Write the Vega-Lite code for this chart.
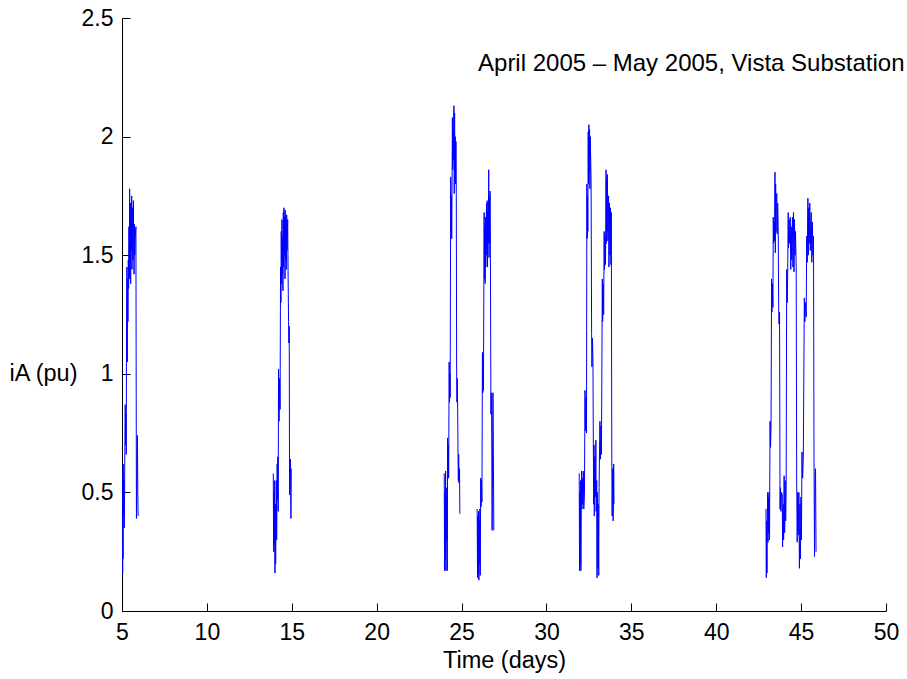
{
  "$schema": "https://vega.github.io/schema/vega-lite/v6.json",
  "width": 764,
  "height": 593,
  "autosize": "none",
  "padding": {"left": 122, "top": 18, "right": 21, "bottom": 68},
  "background": "white",
  "config": {
    "view": {"stroke": null},
    "font": "Liberation Sans",
    "axis": {
      "grid": false,
      "domainColor": "black",
      "domainWidth": 1,
      "tickColor": "black",
      "tickWidth": 1,
      "tickSize": -8,
      "labelFont": "Liberation Sans",
      "labelFontSize": 23,
      "labelColor": "black",
      "titleFont": "Liberation Sans",
      "titleFontSize": 23.5,
      "titleFontWeight": "normal",
      "titleColor": "black"
    }
  },
  "datasets": {
    "current": [
      {"seg": 1, "day": 5.03, "ia": 0.30}, {"seg": 1, "day": 5.04, "ia": 0.16}, {"seg": 1, "day": 5.05, "ia": 0.58}, {"seg": 1, "day": 5.06, "ia": 0.22}, {"seg": 1, "day": 5.07, "ia": 0.62}, {"seg": 1, "day": 5.09, "ia": 0.40}, {"seg": 1, "day": 5.11, "ia": 0.55}, {"seg": 1, "day": 5.13, "ia": 0.35}, {"seg": 1, "day": 5.15, "ia": 0.47}, {"seg": 1, "day": 5.17, "ia": 0.72}, {"seg": 1, "day": 5.19, "ia": 0.87}, {"seg": 1, "day": 5.21, "ia": 0.70}, {"seg": 1, "day": 5.23, "ia": 0.83}, {"seg": 1, "day": 5.25, "ia": 0.66}, {"seg": 1, "day": 5.27, "ia": 1.25}, {"seg": 1, "day": 5.29, "ia": 1.45}, {"seg": 1, "day": 5.31, "ia": 1.05}, {"seg": 1, "day": 5.33, "ia": 1.40}, {"seg": 1, "day": 5.35, "ia": 1.22}, {"seg": 1, "day": 5.37, "ia": 1.48}, {"seg": 1, "day": 5.39, "ia": 1.36}, {"seg": 1, "day": 5.41, "ia": 1.62}, {"seg": 1, "day": 5.43, "ia": 1.40}, {"seg": 1, "day": 5.45, "ia": 1.78}, {"seg": 1, "day": 5.47, "ia": 1.45}, {"seg": 1, "day": 5.49, "ia": 1.72}, {"seg": 1, "day": 5.51, "ia": 1.38}, {"seg": 1, "day": 5.53, "ia": 1.66}, {"seg": 1, "day": 5.55, "ia": 1.52}, {"seg": 1, "day": 5.57, "ia": 1.75}, {"seg": 1, "day": 5.59, "ia": 1.44}, {"seg": 1, "day": 5.61, "ia": 1.62}, {"seg": 1, "day": 5.63, "ia": 1.70}, {"seg": 1, "day": 5.65, "ia": 1.48}, {"seg": 1, "day": 5.67, "ia": 1.73}, {"seg": 1, "day": 5.69, "ia": 1.55}, {"seg": 1, "day": 5.71, "ia": 1.42}, {"seg": 1, "day": 5.73, "ia": 1.63}, {"seg": 1, "day": 5.75, "ia": 1.50}, {"seg": 1, "day": 5.78, "ia": 1.58}, {"seg": 1, "day": 5.82, "ia": 1.62}, {"seg": 1, "day": 5.85, "ia": 0.39}, {"seg": 1, "day": 5.88, "ia": 0.55}, {"seg": 1, "day": 5.91, "ia": 0.74}, {"seg": 1, "day": 5.93, "ia": 0.50}, {"seg": 1, "day": 5.95, "ia": 0.40},
      {"seg": 2, "day": 13.91, "ia": 0.58}, {"seg": 2, "day": 13.93, "ia": 0.25}, {"seg": 2, "day": 13.95, "ia": 0.50}, {"seg": 2, "day": 13.97, "ia": 0.28}, {"seg": 2, "day": 13.99, "ia": 0.55}, {"seg": 2, "day": 14.01, "ia": 0.16}, {"seg": 2, "day": 14.03, "ia": 0.45}, {"seg": 2, "day": 14.05, "ia": 0.20}, {"seg": 2, "day": 14.07, "ia": 0.38}, {"seg": 2, "day": 14.09, "ia": 0.55}, {"seg": 2, "day": 14.11, "ia": 0.30}, {"seg": 2, "day": 14.14, "ia": 0.62}, {"seg": 2, "day": 14.16, "ia": 0.47}, {"seg": 2, "day": 14.18, "ia": 0.65}, {"seg": 2, "day": 14.20, "ia": 0.42}, {"seg": 2, "day": 14.22, "ia": 1.02}, {"seg": 2, "day": 14.25, "ia": 0.80}, {"seg": 2, "day": 14.28, "ia": 0.98}, {"seg": 2, "day": 14.31, "ia": 0.85}, {"seg": 2, "day": 14.34, "ia": 1.45}, {"seg": 2, "day": 14.36, "ia": 1.30}, {"seg": 2, "day": 14.38, "ia": 1.60}, {"seg": 2, "day": 14.40, "ia": 1.38}, {"seg": 2, "day": 14.42, "ia": 1.65}, {"seg": 2, "day": 14.44, "ia": 1.42}, {"seg": 2, "day": 14.46, "ia": 1.58}, {"seg": 2, "day": 14.48, "ia": 1.35}, {"seg": 2, "day": 14.50, "ia": 1.68}, {"seg": 2, "day": 14.52, "ia": 1.45}, {"seg": 2, "day": 14.54, "ia": 1.70}, {"seg": 2, "day": 14.56, "ia": 1.50}, {"seg": 2, "day": 14.58, "ia": 1.66}, {"seg": 2, "day": 14.60, "ia": 1.40}, {"seg": 2, "day": 14.62, "ia": 1.69}, {"seg": 2, "day": 14.64, "ia": 1.48}, {"seg": 2, "day": 14.66, "ia": 1.62}, {"seg": 2, "day": 14.68, "ia": 1.44}, {"seg": 2, "day": 14.70, "ia": 1.67}, {"seg": 2, "day": 14.72, "ia": 1.52}, {"seg": 2, "day": 14.76, "ia": 1.65}, {"seg": 2, "day": 14.78, "ia": 1.45}, {"seg": 2, "day": 14.81, "ia": 1.22}, {"seg": 2, "day": 14.83, "ia": 1.13}, {"seg": 2, "day": 14.85, "ia": 1.20}, {"seg": 2, "day": 14.87, "ia": 0.49}, {"seg": 2, "day": 14.89, "ia": 0.58}, {"seg": 2, "day": 14.92, "ia": 0.64}, {"seg": 2, "day": 14.95, "ia": 0.39}, {"seg": 2, "day": 14.97, "ia": 0.60},
      {"seg": 3, "day": 23.98, "ia": 0.58}, {"seg": 3, "day": 24.00, "ia": 0.17}, {"seg": 3, "day": 24.02, "ia": 0.50}, {"seg": 3, "day": 24.04, "ia": 0.22}, {"seg": 3, "day": 24.06, "ia": 0.59}, {"seg": 3, "day": 24.08, "ia": 0.17}, {"seg": 3, "day": 24.10, "ia": 0.52}, {"seg": 3, "day": 24.12, "ia": 0.30}, {"seg": 3, "day": 24.14, "ia": 0.48}, {"seg": 3, "day": 24.16, "ia": 0.17}, {"seg": 3, "day": 24.18, "ia": 0.73}, {"seg": 3, "day": 24.20, "ia": 0.58}, {"seg": 3, "day": 24.22, "ia": 0.70}, {"seg": 3, "day": 24.24, "ia": 0.56}, {"seg": 3, "day": 24.27, "ia": 1.05}, {"seg": 3, "day": 24.29, "ia": 0.88}, {"seg": 3, "day": 24.31, "ia": 1.00}, {"seg": 3, "day": 24.33, "ia": 0.90}, {"seg": 3, "day": 24.36, "ia": 1.83}, {"seg": 3, "day": 24.38, "ia": 1.60}, {"seg": 3, "day": 24.40, "ia": 1.75}, {"seg": 3, "day": 24.42, "ia": 1.57}, {"seg": 3, "day": 24.44, "ia": 1.80}, {"seg": 3, "day": 24.46, "ia": 2.08}, {"seg": 3, "day": 24.48, "ia": 1.86}, {"seg": 3, "day": 24.50, "ia": 2.02}, {"seg": 3, "day": 24.52, "ia": 1.90}, {"seg": 3, "day": 24.55, "ia": 2.13}, {"seg": 3, "day": 24.57, "ia": 1.76}, {"seg": 3, "day": 24.59, "ia": 2.10}, {"seg": 3, "day": 24.61, "ia": 1.85}, {"seg": 3, "day": 24.63, "ia": 2.00}, {"seg": 3, "day": 24.65, "ia": 1.80}, {"seg": 3, "day": 24.67, "ia": 1.98}, {"seg": 3, "day": 24.69, "ia": 1.76}, {"seg": 3, "day": 24.71, "ia": 1.02}, {"seg": 3, "day": 24.73, "ia": 0.88}, {"seg": 3, "day": 24.75, "ia": 0.98}, {"seg": 3, "day": 24.77, "ia": 0.86}, {"seg": 3, "day": 24.79, "ia": 0.68}, {"seg": 3, "day": 24.81, "ia": 0.55}, {"seg": 3, "day": 24.83, "ia": 0.66}, {"seg": 3, "day": 24.85, "ia": 0.54}, {"seg": 3, "day": 24.88, "ia": 0.60}, {"seg": 3, "day": 24.90, "ia": 0.41},
      {"seg": 4, "day": 25.92, "ia": 0.43}, {"seg": 4, "day": 25.94, "ia": 0.14}, {"seg": 4, "day": 25.96, "ia": 0.40}, {"seg": 4, "day": 25.98, "ia": 0.16}, {"seg": 4, "day": 26.00, "ia": 0.42}, {"seg": 4, "day": 26.02, "ia": 0.13}, {"seg": 4, "day": 26.04, "ia": 0.38}, {"seg": 4, "day": 26.06, "ia": 0.20}, {"seg": 4, "day": 26.08, "ia": 0.43}, {"seg": 4, "day": 26.10, "ia": 0.15}, {"seg": 4, "day": 26.13, "ia": 0.56}, {"seg": 4, "day": 26.15, "ia": 0.44}, {"seg": 4, "day": 26.17, "ia": 0.55}, {"seg": 4, "day": 26.20, "ia": 0.46}, {"seg": 4, "day": 26.23, "ia": 1.09}, {"seg": 4, "day": 26.25, "ia": 0.92}, {"seg": 4, "day": 26.27, "ia": 1.05}, {"seg": 4, "day": 26.29, "ia": 0.93}, {"seg": 4, "day": 26.33, "ia": 1.68}, {"seg": 4, "day": 26.35, "ia": 1.40}, {"seg": 4, "day": 26.37, "ia": 1.62}, {"seg": 4, "day": 26.39, "ia": 1.38}, {"seg": 4, "day": 26.41, "ia": 1.66}, {"seg": 4, "day": 26.43, "ia": 1.45}, {"seg": 4, "day": 26.45, "ia": 1.60}, {"seg": 4, "day": 26.47, "ia": 1.72}, {"seg": 4, "day": 26.49, "ia": 1.50}, {"seg": 4, "day": 26.51, "ia": 1.73}, {"seg": 4, "day": 26.53, "ia": 1.45}, {"seg": 4, "day": 26.55, "ia": 1.68}, {"seg": 4, "day": 26.57, "ia": 1.55}, {"seg": 4, "day": 26.60, "ia": 1.86}, {"seg": 4, "day": 26.62, "ia": 1.49}, {"seg": 4, "day": 26.64, "ia": 1.75}, {"seg": 4, "day": 26.66, "ia": 1.55}, {"seg": 4, "day": 26.68, "ia": 1.77}, {"seg": 4, "day": 26.70, "ia": 1.50}, {"seg": 4, "day": 26.73, "ia": 0.83}, {"seg": 4, "day": 26.75, "ia": 0.92}, {"seg": 4, "day": 26.77, "ia": 0.87}, {"seg": 4, "day": 26.80, "ia": 0.34}, {"seg": 4, "day": 26.82, "ia": 0.55}, {"seg": 4, "day": 26.85, "ia": 0.92}, {"seg": 4, "day": 26.88, "ia": 0.60}, {"seg": 4, "day": 26.90, "ia": 0.34},
      {"seg": 5, "day": 31.93, "ia": 0.58}, {"seg": 5, "day": 31.95, "ia": 0.17}, {"seg": 5, "day": 31.97, "ia": 0.50}, {"seg": 5, "day": 31.99, "ia": 0.20}, {"seg": 5, "day": 32.01, "ia": 0.55}, {"seg": 5, "day": 32.03, "ia": 0.17}, {"seg": 5, "day": 32.05, "ia": 0.45}, {"seg": 5, "day": 32.07, "ia": 0.59}, {"seg": 5, "day": 32.09, "ia": 0.43}, {"seg": 5, "day": 32.11, "ia": 0.56}, {"seg": 5, "day": 32.14, "ia": 0.45}, {"seg": 5, "day": 32.17, "ia": 0.59}, {"seg": 5, "day": 32.20, "ia": 0.43}, {"seg": 5, "day": 32.24, "ia": 0.50}, {"seg": 5, "day": 32.27, "ia": 0.93}, {"seg": 5, "day": 32.30, "ia": 0.76}, {"seg": 5, "day": 32.33, "ia": 0.90}, {"seg": 5, "day": 32.36, "ia": 0.75}, {"seg": 5, "day": 32.38, "ia": 1.80}, {"seg": 5, "day": 32.40, "ia": 1.57}, {"seg": 5, "day": 32.42, "ia": 1.75}, {"seg": 5, "day": 32.44, "ia": 1.60}, {"seg": 5, "day": 32.46, "ia": 2.02}, {"seg": 5, "day": 32.48, "ia": 1.80}, {"seg": 5, "day": 32.50, "ia": 2.05}, {"seg": 5, "day": 32.52, "ia": 1.85}, {"seg": 5, "day": 32.54, "ia": 2.03}, {"seg": 5, "day": 32.56, "ia": 1.78}, {"seg": 5, "day": 32.58, "ia": 2.00}, {"seg": 5, "day": 32.61, "ia": 1.90}, {"seg": 5, "day": 32.63, "ia": 1.80}, {"seg": 5, "day": 32.66, "ia": 1.17}, {"seg": 5, "day": 32.68, "ia": 1.03}, {"seg": 5, "day": 32.71, "ia": 1.15}, {"seg": 5, "day": 32.74, "ia": 1.05}, {"seg": 5, "day": 32.76, "ia": 0.73}, {"seg": 5, "day": 32.78, "ia": 0.45}, {"seg": 5, "day": 32.80, "ia": 0.70}, {"seg": 5, "day": 32.82, "ia": 0.40}, {"seg": 5, "day": 32.85, "ia": 0.65}, {"seg": 5, "day": 32.88, "ia": 0.48}, {"seg": 5, "day": 32.91, "ia": 0.72}, {"seg": 5, "day": 32.93, "ia": 0.42}, {"seg": 5, "day": 32.96, "ia": 0.55}, {"seg": 5, "day": 32.98, "ia": 0.14}, {"seg": 5, "day": 33.00, "ia": 0.50}, {"seg": 5, "day": 33.02, "ia": 0.18}, {"seg": 5, "day": 33.05, "ia": 0.45}, {"seg": 5, "day": 33.08, "ia": 0.15}, {"seg": 5, "day": 33.10, "ia": 0.52}, {"seg": 5, "day": 33.15, "ia": 0.80}, {"seg": 5, "day": 33.18, "ia": 0.64}, {"seg": 5, "day": 33.21, "ia": 0.78}, {"seg": 5, "day": 33.24, "ia": 0.66}, {"seg": 5, "day": 33.29, "ia": 1.40}, {"seg": 5, "day": 33.31, "ia": 1.22}, {"seg": 5, "day": 33.34, "ia": 1.38}, {"seg": 5, "day": 33.37, "ia": 1.25}, {"seg": 5, "day": 33.40, "ia": 1.60}, {"seg": 5, "day": 33.42, "ia": 1.44}, {"seg": 5, "day": 33.45, "ia": 1.58}, {"seg": 5, "day": 33.48, "ia": 1.46}, {"seg": 5, "day": 33.51, "ia": 1.86}, {"seg": 5, "day": 33.53, "ia": 1.55}, {"seg": 5, "day": 33.55, "ia": 1.82}, {"seg": 5, "day": 33.57, "ia": 1.60}, {"seg": 5, "day": 33.59, "ia": 1.84}, {"seg": 5, "day": 33.62, "ia": 1.56}, {"seg": 5, "day": 33.66, "ia": 1.75}, {"seg": 5, "day": 33.68, "ia": 1.45}, {"seg": 5, "day": 33.71, "ia": 1.72}, {"seg": 5, "day": 33.74, "ia": 1.50}, {"seg": 5, "day": 33.77, "ia": 1.70}, {"seg": 5, "day": 33.80, "ia": 1.46}, {"seg": 5, "day": 33.82, "ia": 1.68}, {"seg": 5, "day": 33.85, "ia": 0.64}, {"seg": 5, "day": 33.87, "ia": 0.40}, {"seg": 5, "day": 33.90, "ia": 0.60}, {"seg": 5, "day": 33.93, "ia": 0.38}, {"seg": 5, "day": 33.96, "ia": 0.62}, {"seg": 5, "day": 33.98, "ia": 0.45},
      {"seg": 6, "day": 42.93, "ia": 0.43}, {"seg": 6, "day": 42.95, "ia": 0.14}, {"seg": 6, "day": 42.97, "ia": 0.38}, {"seg": 6, "day": 42.99, "ia": 0.16}, {"seg": 6, "day": 43.01, "ia": 0.40}, {"seg": 6, "day": 43.03, "ia": 0.50}, {"seg": 6, "day": 43.05, "ia": 0.29}, {"seg": 6, "day": 43.07, "ia": 0.48}, {"seg": 6, "day": 43.09, "ia": 0.33}, {"seg": 6, "day": 43.11, "ia": 0.50}, {"seg": 6, "day": 43.14, "ia": 0.30}, {"seg": 6, "day": 43.17, "ia": 0.80}, {"seg": 6, "day": 43.20, "ia": 0.69}, {"seg": 6, "day": 43.23, "ia": 0.78}, {"seg": 6, "day": 43.26, "ia": 1.40}, {"seg": 6, "day": 43.28, "ia": 1.26}, {"seg": 6, "day": 43.31, "ia": 1.38}, {"seg": 6, "day": 43.34, "ia": 1.28}, {"seg": 6, "day": 43.36, "ia": 1.66}, {"seg": 6, "day": 43.38, "ia": 1.55}, {"seg": 6, "day": 43.41, "ia": 1.64}, {"seg": 6, "day": 43.44, "ia": 1.56}, {"seg": 6, "day": 43.46, "ia": 1.85}, {"seg": 6, "day": 43.48, "ia": 1.51}, {"seg": 6, "day": 43.50, "ia": 1.80}, {"seg": 6, "day": 43.52, "ia": 1.60}, {"seg": 6, "day": 43.54, "ia": 1.75}, {"seg": 6, "day": 43.57, "ia": 1.76}, {"seg": 6, "day": 43.59, "ia": 1.59}, {"seg": 6, "day": 43.62, "ia": 1.72}, {"seg": 6, "day": 43.65, "ia": 1.62}, {"seg": 6, "day": 43.68, "ia": 1.27}, {"seg": 6, "day": 43.70, "ia": 1.21}, {"seg": 6, "day": 43.73, "ia": 1.26}, {"seg": 6, "day": 43.76, "ia": 0.43}, {"seg": 6, "day": 43.78, "ia": 0.52}, {"seg": 6, "day": 43.81, "ia": 0.42}, {"seg": 6, "day": 43.85, "ia": 0.50}, {"seg": 6, "day": 43.89, "ia": 0.49}, {"seg": 6, "day": 43.91, "ia": 0.27}, {"seg": 6, "day": 43.94, "ia": 0.45}, {"seg": 6, "day": 43.97, "ia": 0.30}, {"seg": 6, "day": 44.00, "ia": 0.57}, {"seg": 6, "day": 44.03, "ia": 0.33}, {"seg": 6, "day": 44.06, "ia": 0.55}, {"seg": 6, "day": 44.09, "ia": 0.38}, {"seg": 6, "day": 44.12, "ia": 0.50}, {"seg": 6, "day": 44.15, "ia": 1.44}, {"seg": 6, "day": 44.18, "ia": 1.30}, {"seg": 6, "day": 44.21, "ia": 1.42}, {"seg": 6, "day": 44.24, "ia": 1.68}, {"seg": 6, "day": 44.26, "ia": 1.53}, {"seg": 6, "day": 44.29, "ia": 1.65}, {"seg": 6, "day": 44.32, "ia": 1.55}, {"seg": 6, "day": 44.36, "ia": 1.66}, {"seg": 6, "day": 44.39, "ia": 1.44}, {"seg": 6, "day": 44.42, "ia": 1.62}, {"seg": 6, "day": 44.45, "ia": 1.48}, {"seg": 6, "day": 44.49, "ia": 1.66}, {"seg": 6, "day": 44.52, "ia": 1.45}, {"seg": 6, "day": 44.55, "ia": 1.68}, {"seg": 6, "day": 44.58, "ia": 1.43}, {"seg": 6, "day": 44.61, "ia": 1.65}, {"seg": 6, "day": 44.64, "ia": 1.50}, {"seg": 6, "day": 44.67, "ia": 1.60}, {"seg": 6, "day": 44.71, "ia": 1.45}, {"seg": 6, "day": 44.74, "ia": 0.54}, {"seg": 6, "day": 44.77, "ia": 0.29}, {"seg": 6, "day": 44.80, "ia": 0.50}, {"seg": 6, "day": 44.83, "ia": 0.32}, {"seg": 6, "day": 44.87, "ia": 0.50}, {"seg": 6, "day": 44.90, "ia": 0.18}, {"seg": 6, "day": 44.93, "ia": 0.45}, {"seg": 6, "day": 44.96, "ia": 0.22}, {"seg": 6, "day": 44.99, "ia": 0.48}, {"seg": 6, "day": 45.02, "ia": 0.30}, {"seg": 6, "day": 45.05, "ia": 0.67}, {"seg": 6, "day": 45.09, "ia": 0.56}, {"seg": 6, "day": 45.13, "ia": 0.65}, {"seg": 6, "day": 45.19, "ia": 1.32}, {"seg": 6, "day": 45.22, "ia": 1.22}, {"seg": 6, "day": 45.26, "ia": 1.30}, {"seg": 6, "day": 45.30, "ia": 1.24}, {"seg": 6, "day": 45.33, "ia": 1.58}, {"seg": 6, "day": 45.36, "ia": 1.47}, {"seg": 6, "day": 45.40, "ia": 1.74}, {"seg": 6, "day": 45.42, "ia": 1.50}, {"seg": 6, "day": 45.45, "ia": 1.70}, {"seg": 6, "day": 45.48, "ia": 1.55}, {"seg": 6, "day": 45.51, "ia": 1.72}, {"seg": 6, "day": 45.54, "ia": 1.52}, {"seg": 6, "day": 45.57, "ia": 1.65}, {"seg": 6, "day": 45.60, "ia": 1.68}, {"seg": 6, "day": 45.63, "ia": 1.47}, {"seg": 6, "day": 45.66, "ia": 1.64}, {"seg": 6, "day": 45.70, "ia": 1.50}, {"seg": 6, "day": 45.73, "ia": 1.58}, {"seg": 6, "day": 45.76, "ia": 0.65}, {"seg": 6, "day": 45.79, "ia": 0.23}, {"seg": 6, "day": 45.82, "ia": 0.55}, {"seg": 6, "day": 45.85, "ia": 0.60}, {"seg": 6, "day": 45.88, "ia": 0.25}
    ]
  },
  "layer": [
    {
      "data": {"name": "current"},
      "mark": {"type": "line", "color": "#0000ff", "strokeWidth": 1, "clip": true},
      "encoding": {
        "x": {
          "field": "day",
          "type": "quantitative",
          "scale": {"domain": [5, 50], "nice": false, "zero": false},
          "axis": {"title": "Time (days)", "values": [5, 10, 15, 20, 25, 30, 35, 40, 45, 50], "format": "~g", "labelPadding": 18, "titlePadding": 4, "labelFlush": false}
        },
        "y": {
          "field": "ia",
          "type": "quantitative",
          "scale": {"domain": [0, 2.5], "nice": false},
          "axis": {"title": "iA (pu)", "values": [0, 0.5, 1, 1.5, 2, 2.5], "format": "~g", "labelPadding": 17, "titleAngle": 0, "titleAlign": "center", "titleBaseline": "middle", "titleX": -79, "titleY": 355, "labelFlush": false}
        },
        "detail": {"field": "seg", "type": "nominal"}
      }
    },
    {
      "data": {"values": [{}]},
      "mark": {"type": "text", "align": "left", "baseline": "middle", "fontSize": 24, "font": "Liberation Sans", "color": "black"},
      "encoding": {
        "x": {"datum": 25.97, "type": "quantitative"},
        "y": {"datum": 2.305, "type": "quantitative"},
        "text": {"value": "April 2005 – May 2005, Vista Substation"}
      }
    }
  ]
}
